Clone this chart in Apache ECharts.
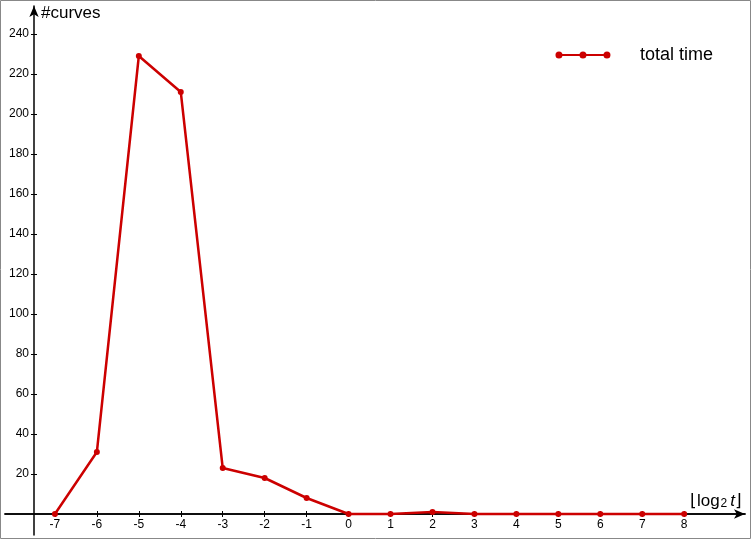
<!DOCTYPE html>
<html>
<head>
<meta charset="utf-8">
<script src="https://cdn.jsdelivr.net/npm/echarts@6/dist/echarts.min.js"></script>
<style>
  body { margin: 0; background: #fff; }
  #chart { width: 752px; height: 540px; }
</style>
</head>
<body>
<div id="chart"></div>
<script>
const xValues = [-7, -6, -5, -4, -3, -2, -1, 0, 1, 2, 3, 4, 5, 6, 7, 8]
const totalTime = [0, 31, 229, 211, 23, 18, 8, 0, 0, 1, 0, 0, 0, 0, 0, 0]
const xTicks = [-7, -6, -5, -4, -3, -2, -1, 0, 1, 2, 3, 4, 5, 6, 7, 8]
const yTicks = [20, 40, 60, 80, 100, 120, 140, 160, 180, 200, 220, 240]

const lineColor = '#cc0000'
const legendIcon = 'path://M0,3.5a3.5,3.5 0 1,1 7,0a3.5,3.5 0 1,1 -7,0Z' +
  'M24,3.5a3.5,3.5 0 1,1 7,0a3.5,3.5 0 1,1 -7,0Z' +
  'M48,3.5a3.5,3.5 0 1,1 7,0a3.5,3.5 0 1,1 -7,0Z' +
  'M3.5,2.5H51.5V4.5H3.5Z'

const chart = echarts.init(document.getElementById('chart'))

const baseX = {
  type: 'value',
  min: -8.19,
  max: 9.45,
  position: 'bottom',
  splitLine: {show: false},
  axisLine: {onZero: true, lineStyle: {color: '#000', width: 1.5}},
}
const baseY = {
  type: 'value',
  min: -10.5,
  max: 254,
  position: 'left',
  offset: -29,
  splitLine: {show: false},
  axisLine: {show: true, lineStyle: {color: '#000', width: 1.5}},
}

const option = {
  animation: false,
  textStyle: {fontFamily: 'Liberation Sans, Arial, sans-serif'},
  graphic: [{
    type: 'rect',
    shape: {x: 0.5, y: 0.5, width: 750, height: 538},
    style: {fill: 'none', stroke: '#888', lineWidth: 1},
    silent: true
  }],
  grid: {left: 5, top: 6, width: 740, height: 529, containLabel: false, outerBoundsMode: 'none'},
  legend: {
    data: ['total time'],
    right: 34,
    top: 41,
    icon: legendIcon,
    itemWidth: 56,
    itemHeight: 7,
    textStyle: {fontSize: 18, color: '#000', padding: [0, 0, 0, 24]}
  },
  xAxis: [
    Object.assign({}, baseX, {
      name: '⌊log{sub|2}{it|t}⌋',
      nameLocation: 'end',
      nameGap: -3,
      nameTextStyle: {
        fontSize: 17, color: '#000', align: 'right', verticalAlign: 'bottom',
        padding: [0, 0, 4, 0],
        rich: {
          sub: {fontSize: 12, verticalAlign: 'bottom', padding: [0, 3, 0, 1]},
          it: {fontSize: 17, fontStyle: 'italic'}
        }
      },
      axisLine: {onZero: true, symbol: ['none', 'arrow'], symbolSize: [7, 11], symbolOffset: [0, 0],
        lineStyle: {color: '#000', width: 1.5}},
      axisTick: {show: true, length: 3, customValues: xTicks, lineStyle: {color: '#000'}},
      axisLabel: {customValues: xTicks, fontSize: 12, color: '#000', margin: -16}
    }),
    Object.assign({}, baseX, {
      axisTick: {show: true, inside: true, length: 3, customValues: xTicks, lineStyle: {color: '#000'}},
      axisLabel: {show: false}
    })
  ],
  yAxis: [
    Object.assign({}, baseY, {
      name: '#curves',
      nameLocation: 'end',
      nameGap: -16,
      nameTextStyle: {fontSize: 17, color: '#000', align: 'left', padding: [0, 0, 0, 7]},
      axisLine: {show: true, onZero: false, symbol: ['none', 'arrow'], symbolSize: [7, 11],
        lineStyle: {color: '#000', width: 1.5}},
      axisTick: {show: true, length: 3, customValues: yTicks, lineStyle: {color: '#000'}},
      axisLabel: {customValues: yTicks, fontSize: 12, color: '#000', margin: 5}
    }),
    Object.assign({}, baseY, {
      axisLine: {show: false, onZero: false},
      axisTick: {show: true, inside: true, length: 3, customValues: yTicks, lineStyle: {color: '#000'}},
      axisLabel: {show: false}
    })
  ],
  series: [{
    name: 'total time',
    type: 'line',
    data: xValues.map((x, i) => [x, totalTime[i]]),
    symbol: 'circle',
    symbolSize: 6,
    itemStyle: {color: lineColor},
    lineStyle: {color: lineColor, width: 2.5},
    z: 5
  }]
}

chart.setOption(option)
</script>
</body>
</html>
